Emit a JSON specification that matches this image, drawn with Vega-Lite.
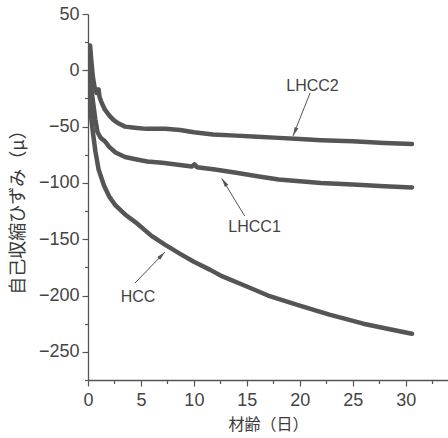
{
  "$schema": "https://vega.github.io/schema/vega-lite/v6.json",
  "width": 360,
  "height": 366,
  "autosize": "none",
  "padding": {"left": 88, "top": 14, "right": 0, "bottom": 58},
  "background": "white",
  "config": {
    "view": {"stroke": null},
    "font": "Liberation Sans",
    "axis": {
      "grid": false,
      "domainColor": "#555",
      "domainWidth": 1.3,
      "tickColor": "#555",
      "tickWidth": 1.2,
      "labelColor": "#444",
      "labelFont": "Liberation Sans",
      "labelFontSize": 18,
      "titleColor": "#3a3a3a",
      "titleFont": "Noto Sans CJK JP",
      "titleFontSize": 18,
      "titleFontWeight": "normal"
    }
  },
  "datasets": {
    "curves": [
      {"series": "LHCC2", "day": 0, "strain": 0},
      {"series": "LHCC2", "day": 0.1, "strain": 15},
      {"series": "LHCC2", "day": 0.2, "strain": 22},
      {"series": "LHCC2", "day": 0.3, "strain": 10},
      {"series": "LHCC2", "day": 0.45, "strain": -5},
      {"series": "LHCC2", "day": 0.6, "strain": -14},
      {"series": "LHCC2", "day": 0.8, "strain": -20},
      {"series": "LHCC2", "day": 1.0, "strain": -17},
      {"series": "LHCC2", "day": 1.1, "strain": -24},
      {"series": "LHCC2", "day": 1.3, "strain": -29},
      {"series": "LHCC2", "day": 1.6, "strain": -35},
      {"series": "LHCC2", "day": 2.0, "strain": -40},
      {"series": "LHCC2", "day": 2.4, "strain": -44},
      {"series": "LHCC2", "day": 2.85, "strain": -47},
      {"series": "LHCC2", "day": 3.5, "strain": -50},
      {"series": "LHCC2", "day": 4.4, "strain": -51},
      {"series": "LHCC2", "day": 5.5, "strain": -52},
      {"series": "LHCC2", "day": 7.3, "strain": -52},
      {"series": "LHCC2", "day": 8.7, "strain": -53},
      {"series": "LHCC2", "day": 10, "strain": -55},
      {"series": "LHCC2", "day": 11.8, "strain": -57},
      {"series": "LHCC2", "day": 14, "strain": -58},
      {"series": "LHCC2", "day": 16, "strain": -59},
      {"series": "LHCC2", "day": 18, "strain": -60},
      {"series": "LHCC2", "day": 20, "strain": -61},
      {"series": "LHCC2", "day": 22, "strain": -62},
      {"series": "LHCC2", "day": 25, "strain": -63},
      {"series": "LHCC2", "day": 28, "strain": -64.5},
      {"series": "LHCC2", "day": 30.6, "strain": -65.5},
      {"series": "LHCC1", "day": 0, "strain": 0},
      {"series": "LHCC1", "day": 0.1, "strain": 15},
      {"series": "LHCC1", "day": 0.2, "strain": 5},
      {"series": "LHCC1", "day": 0.3, "strain": -15},
      {"series": "LHCC1", "day": 0.5, "strain": -30},
      {"series": "LHCC1", "day": 0.7, "strain": -44},
      {"series": "LHCC1", "day": 0.9, "strain": -55},
      {"series": "LHCC1", "day": 1.2, "strain": -60},
      {"series": "LHCC1", "day": 1.6, "strain": -63},
      {"series": "LHCC1", "day": 2.0, "strain": -68},
      {"series": "LHCC1", "day": 2.6, "strain": -73},
      {"series": "LHCC1", "day": 3.5, "strain": -77},
      {"series": "LHCC1", "day": 4.5, "strain": -79},
      {"series": "LHCC1", "day": 5.6, "strain": -81},
      {"series": "LHCC1", "day": 7, "strain": -82},
      {"series": "LHCC1", "day": 8.7, "strain": -84},
      {"series": "LHCC1", "day": 9.8, "strain": -85.5},
      {"series": "LHCC1", "day": 10.05, "strain": -83.5},
      {"series": "LHCC1", "day": 10.3, "strain": -86},
      {"series": "LHCC1", "day": 12, "strain": -88},
      {"series": "LHCC1", "day": 14, "strain": -91},
      {"series": "LHCC1", "day": 16, "strain": -94},
      {"series": "LHCC1", "day": 18, "strain": -97},
      {"series": "LHCC1", "day": 20, "strain": -98.5},
      {"series": "LHCC1", "day": 22, "strain": -100},
      {"series": "LHCC1", "day": 25, "strain": -101.5},
      {"series": "LHCC1", "day": 28, "strain": -103},
      {"series": "LHCC1", "day": 30.6, "strain": -104},
      {"series": "HCC", "day": 0, "strain": 0},
      {"series": "HCC", "day": 0.1, "strain": 10},
      {"series": "HCC", "day": 0.2, "strain": -20},
      {"series": "HCC", "day": 0.3, "strain": -42},
      {"series": "HCC", "day": 0.5, "strain": -58},
      {"series": "HCC", "day": 0.7, "strain": -72},
      {"series": "HCC", "day": 1.0, "strain": -88},
      {"series": "HCC", "day": 1.5, "strain": -102},
      {"series": "HCC", "day": 2.0, "strain": -112},
      {"series": "HCC", "day": 2.6, "strain": -120},
      {"series": "HCC", "day": 3.5, "strain": -128},
      {"series": "HCC", "day": 4.5, "strain": -135},
      {"series": "HCC", "day": 6, "strain": -147},
      {"series": "HCC", "day": 7.3, "strain": -155},
      {"series": "HCC", "day": 8.7, "strain": -163},
      {"series": "HCC", "day": 10, "strain": -170},
      {"series": "HCC", "day": 11.5, "strain": -177},
      {"series": "HCC", "day": 12.7, "strain": -183},
      {"series": "HCC", "day": 15, "strain": -192},
      {"series": "HCC", "day": 17, "strain": -200},
      {"series": "HCC", "day": 20, "strain": -209},
      {"series": "HCC", "day": 22.8, "strain": -217},
      {"series": "HCC", "day": 26, "strain": -225},
      {"series": "HCC", "day": 28.5, "strain": -230},
      {"series": "HCC", "day": 30.6, "strain": -234}
    ],
    "ann": [
      {"label": "LHCC2", "tx": 21.2, "ty": -13.5, "x1": 20.97, "y1": -20.2, "x2": 19.36, "y2": -58.3},
      {"label": "LHCC1", "tx": 15.73, "ty": -138.7, "x1": 14.8, "y1": -129.4, "x2": 12.63, "y2": -95.9},
      {"label": "HCC", "tx": 4.72, "ty": -201.3, "x1": 4.44, "y1": -188.9, "x2": 7.27, "y2": -161.3}
    ]
  },
  "resolve": {"axis": {"x": "independent", "y": "independent"}},
  "layer": [
    {
      "data": {"name": "curves"},
      "mark": {"type": "line", "color": "#555", "strokeWidth": 4.5, "strokeJoin": "round", "strokeCap": "round", "clip": true},
      "encoding": {
        "x": {
          "field": "day", "type": "quantitative",
          "scale": {"domain": [0, 34], "nice": false, "zero": false},
          "axis": {
            "orient": "bottom",
            "values": [0, 5, 10, 15, 20, 25, 30],
            "tickSize": 6,
            "labelPadding": 5,
            "labelFlush": false,
            "title": "材齢（日）",
            "titleFontSize": 16,
            "titleY": 44,
            "titleBaseline": "middle"
          }
        },
        "y": {
          "field": "strain", "type": "quantitative",
          "scale": {"domain": [-275, 50], "nice": false, "zero": false},
          "axis": {
            "orient": "left",
            "values": [50, 0, -50, -100, -150, -200, -250],
            "tickSize": 6,
            "labelPadding": 3,
            "labelFlush": false,
            "title": "自己収縮ひずみ（μ）",
            "titleX": -70,
            "titleY": 193.5,
            "titleAlign": "center",
            "titleBaseline": "middle",
            "titleAngle": -90
          }
        },
        "detail": {"field": "series"}
      }
    },
    {
      "data": {"name": "ann"},
      "mark": {"type": "rule", "color": "#555", "strokeWidth": 1},
      "encoding": {
        "x": {"field": "x1", "type": "quantitative", "axis": null},
        "y": {"field": "y1", "type": "quantitative", "axis": null},
        "x2": {"field": "x2"},
        "y2": {"field": "y2"}
      }
    },
    {
      "data": {"name": "ann"},
      "transform": [{"filter": "datum.label === 'LHCC2'"}],
      "mark": {"type": "point", "shape": "M0,0L-0.4,1.8L0.4,1.8Z", "filled": true, "color": "#555", "size": 100, "opacity": 1, "angle": 203},
      "encoding": {
        "x": {"field": "x2", "type": "quantitative", "axis": null},
        "y": {"field": "y2", "type": "quantitative", "axis": null}
      }
    },
    {
      "data": {"name": "ann"},
      "transform": [{"filter": "datum.label === 'LHCC1'"}],
      "mark": {"type": "point", "shape": "M0,0L-0.4,1.8L0.4,1.8Z", "filled": true, "color": "#555", "size": 100, "opacity": 1, "angle": 327},
      "encoding": {
        "x": {"field": "x2", "type": "quantitative", "axis": null},
        "y": {"field": "y2", "type": "quantitative", "axis": null}
      }
    },
    {
      "data": {"name": "ann"},
      "transform": [{"filter": "datum.label === 'HCC'"}],
      "mark": {"type": "point", "shape": "M0,0L-0.4,1.8L0.4,1.8Z", "filled": true, "color": "#555", "size": 100, "opacity": 1, "angle": 44},
      "encoding": {
        "x": {"field": "x2", "type": "quantitative", "axis": null},
        "y": {"field": "y2", "type": "quantitative", "axis": null}
      }
    },
    {
      "data": {"name": "ann"},
      "mark": {"type": "text", "color": "#444", "font": "Liberation Sans", "fontSize": 16, "align": "center", "baseline": "middle"},
      "encoding": {
        "x": {"field": "tx", "type": "quantitative", "axis": null},
        "y": {"field": "ty", "type": "quantitative", "axis": null},
        "text": {"field": "label"}
      }
    },
    {
      "data": {"name": "ann"},
      "mark": {"type": "point", "opacity": 0},
      "encoding": {
        "x": {
          "field": "tx", "type": "quantitative",
          "axis": {
            "orient": "bottom",
            "values": [2.5, 7.5, 12.5, 17.5, 22.5, 27.5, 32.5],
            "tickSize": 3.5,
            "labels": false,
            "domain": false,
            "title": null
          }
        },
        "y": {
          "field": "ty", "type": "quantitative",
          "axis": {
            "orient": "left",
            "values": [25, -25, -75, -125, -175, -225, -275],
            "tickSize": 3.5,
            "labels": false,
            "domain": false,
            "title": null
          }
        }
      }
    }
  ]
}
